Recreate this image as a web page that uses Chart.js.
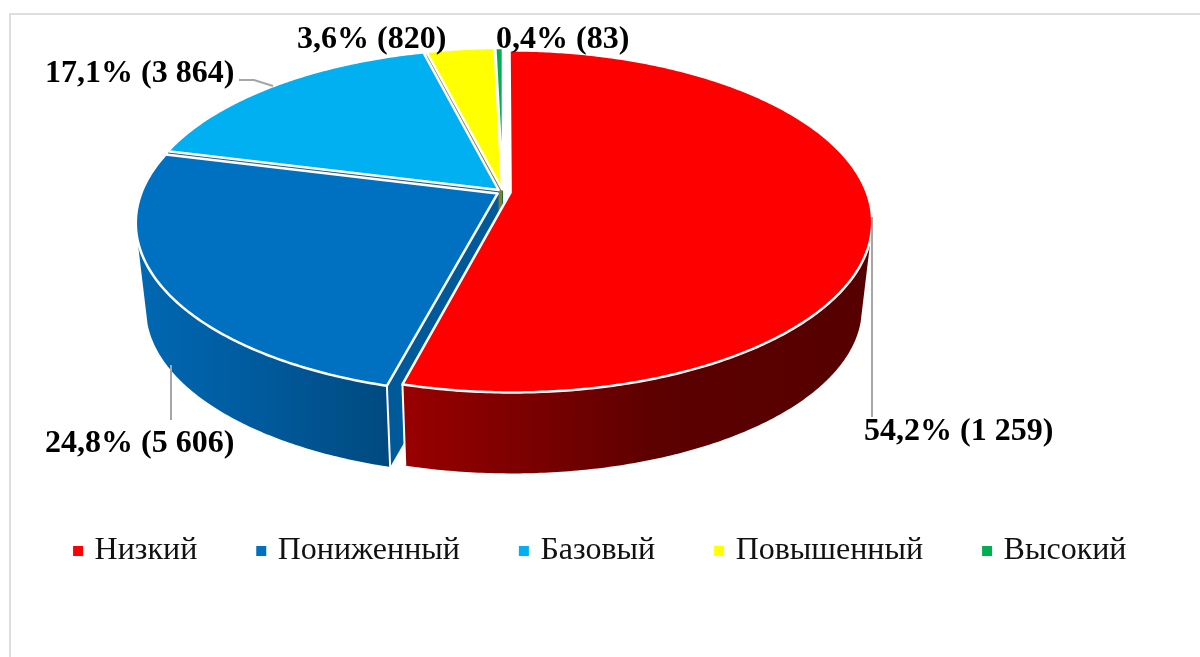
<!DOCTYPE html>
<html lang="ru">
<head>
<meta charset="utf-8">
<style>
html,body{margin:0;padding:0;background:#fff;width:1200px;height:657px;overflow:hidden}
#frame{position:absolute;left:9px;top:13px;right:-4px;bottom:-4px;border:2px solid #dedede;box-sizing:border-box}
canvas{position:absolute;left:0;top:0}
</style>
<script src="https://cdn.jsdelivr.net/npm/chart.js@4"></script>
</head>
<body>
<div id="frame"></div>
<canvas id="c" width="1200" height="657"></canvas>
<script>
const categories = ['Низкий','Пониженный','Базовый','Повышенный','Высокий'];
const shares = [54.2, 24.8, 17.1, 3.6, 0.4];
const counts = ['1 259','5 606','3 864','820','83'];
const colors = ['#ff0000','#0070c0','#00b0f0','#ffff00','#00b050'];
const explode = [5, 4, 4, 4, 4];
const faceColors = ['#8a0000','#005a9a','#1f5f80','#80803a','#00602c'];
const wallStops = [['#990000','#5c0000','#560000'],['#0068b2','#005a9c','#004a80'],['#006084','#006084','#006084'],['#808000','#808000','#808000'],['#006030','#006030','#006030']];

// label anchors: [left, baseline]
const labelPos = [[864,440],[45,452],[45,82],[297,48],[496,48]];
const leaders = [[[872,217],[872,417]],[[171,365],[171,420]],[[239,80],[254,80],[273,86]]];

// projection of the flat pie into the tilted view
const G = {cx:503, cy:192, kx:356, ky:166, p:0.169, sx:0.972, sy:0.97, depth:87, wallFrom:0.25};

function proj(arc, u, v){          // u,v in library radius units, centred on the arc
  const R = arc.outerRadius, nu = u/R, nv = v/R, s = 1/(1-G.p*nv);
  return [G.cx + nu*G.kx*s, G.cy + nv*G.ky*s];
}
function low(P){ return [G.cx+(P[0]-G.cx)*G.sx, G.cy+G.depth+(P[1]-G.cy)*G.sy]; }
function off(arc){
  const m=(arc.startAngle+arc.endAngle)/2, o=arc.options.offset||0;
  return [Math.cos(m)*o, Math.sin(m)*o];
}
function rim(arc,a){ const o=off(arc),R=arc.outerRadius; return proj(arc,o[0]+Math.cos(a)*R,o[1]+Math.sin(a)*R); }
function apex(arc){ const o=off(arc); return proj(arc,o[0],o[1]); }
function samples(a,b){ const n=Math.max(2,Math.ceil((b-a)/0.01)),r=[]; for(let i=0;i<=n;i++) r.push(a+(b-a)*i/n); return r; }
function poly(ctx,pts){ ctx.beginPath(); pts.forEach((p,i)=> i?ctx.lineTo(p[0],p[1]):ctx.moveTo(p[0],p[1])); ctx.closePath(); }

const pie3d = {
  id:'pie3d',
  beforeDatasetDraw(chart,args){
    const ctx=chart.ctx, arcs=args.meta.data;
    ctx.save();
    ctx.lineJoin='round';
    // cut faces, back to front
    for(let i=arcs.length-1;i>=0;i--){
      const arc=arcs[i], A=apex(arc);
      [[arc.startAngle,Math.cos(arc.startAngle)<-1e-3],[arc.endAngle,Math.cos(arc.endAngle)>1e-3]].forEach(([a,show])=>{
        if(!show) return;
        const E=rim(arc,a);
        poly(ctx,[A,E,low(E),low(A)]);
        ctx.fillStyle=faceColors[i]; ctx.fill();
      });
    }
    // outer walls
    arcs.forEach((arc,i)=>{
      const lo=arc.startAngle, hi=arc.endAngle;
      const ang=samples(lo,hi).filter(a=>Math.sin(a)>=G.wallFrom);
      if(ang.length<2) return;
      const top=ang.map(a=>rim(arc,a)), bot=top.map(low).reverse();
      const xs=top.map(p=>p[0]), x0=Math.min(...xs), x1=Math.max(...xs);
      const g=ctx.createLinearGradient(x0,0,x1,0), st=wallStops[i];
      g.addColorStop(0,st[0]); g.addColorStop(i===0?0.55:0.5,st[1]); g.addColorStop(1,st[2]);
      poly(ctx,top.concat(bot));
      ctx.fillStyle=g; ctx.fill();
      // white vertical edges at the slice corners
      ctx.strokeStyle='#fff'; ctx.lineWidth=2;
      [lo,hi].forEach(a=>{ if(Math.sin(a)>0.5){ const E=rim(arc,a),L=low(E); ctx.beginPath(); ctx.moveTo(E[0],E[1]); ctx.lineTo(L[0],L[1]); ctx.stroke(); }});
    });
    // top faces
    arcs.forEach(arc=>{
      const pts=[apex(arc)].concat(samples(arc.startAngle,arc.endAngle).map(a=>rim(arc,a)));
      poly(ctx,pts);
      ctx.fillStyle=arc.options.backgroundColor; ctx.fill();
      ctx.strokeStyle=arc.options.borderColor; ctx.lineWidth=arc.options.borderWidth; ctx.stroke();
    });
    ctx.restore();
    return false;
  },
  afterDraw(chart){
    const ctx=chart.ctx;
    ctx.save();
    ctx.strokeStyle='#a6a6a6'; ctx.lineWidth=2;
    leaders.forEach(l=>{ ctx.beginPath(); l.forEach((p,i)=> i?ctx.lineTo(p[0],p[1]):ctx.moveTo(p[0],p[1])); ctx.stroke(); });
    ctx.fillStyle='#000'; ctx.font='bold 32px "Liberation Serif"'; ctx.textBaseline='alphabetic'; ctx.textAlign='left';
    shares.forEach((v,i)=>{
      const t=v.toFixed(1).replace('.',',')+'% ('+counts[i]+')';
      ctx.fillText(t,labelPos[i][0],labelPos[i][1]);
    });
    ctx.restore();
  }
};

new Chart(document.getElementById('c'),{
  type:'pie',
  data:{labels:categories,datasets:[{data:shares,backgroundColor:colors,borderColor:'#ffffff',borderWidth:2.5,offset:explode}]},
  options:{
    responsive:false,animation:false,
    layout:{padding:{bottom:80,left:4}},
    events:[],
    plugins:{
      tooltip:{enabled:false},
      legend:{position:'bottom',labels:{usePointStyle:true,pointStyle:'rect',boxWidth:1,boxHeight:12.5,padding:63.5,color:'#111',font:{family:'"Liberation Serif"',size:32}}}
    }
  },
  plugins:[pie3d]
});
</script>
</body>
</html>
